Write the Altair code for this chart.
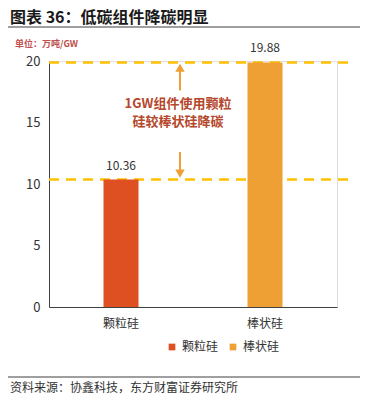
import altair as alt
import pandas as pd

categories = ["颗粒硅", "棒状硅"]
values = [10.36, 19.88]
colors = ["#DE5021", "#EFA035"]
y_ticks = [0, 5, 10, 15, 20]

title_text = "图表 36：低碳组件降碳明显"
unit_text = "单位：万吨/GW"
note_lines = ["1GW组件使用颗粒", "硅较棒状硅降碳"]
source_text = "资料来源：协鑫科技，东方财富证券研究所"

FONT = "Noto Sans CJK SC"

df = pd.DataFrame({"cat": categories, "val": values})

x_enc = alt.X("cat:N", sort=categories,
              scale=alt.Scale(domain=categories, paddingInner=0, paddingOuter=0),
              axis=alt.Axis(title=None, labelAngle=0, ticks=False, labelFontSize=12,
                            labelColor="#333333", labelPadding=11, domainColor="#404040",
                            labelFont=FONT))
y_scale = alt.Scale(domain=[0, 20], nice=False)
y_enc = alt.Y("val:Q", scale=y_scale,
              axis=alt.Axis(title=None, values=y_ticks, ticks=False, grid=False,
                            labelFontSize=13, labelColor="#333333", labelPadding=9,
                            domainColor="#404040", labelFont=FONT))

bars = alt.Chart(df).mark_bar(size=35).encode(
    x=x_enc, y=y_enc,
    color=alt.Color("cat:N", sort=categories,
                    scale=alt.Scale(domain=categories, range=colors),
                    legend=alt.Legend(title=None, orient="none", legendX=117, legendY=280,
                                      direction="horizontal", symbolType="square",
                                      symbolSize=45, labelFontSize=12, labelColor="#333333",
                                      columnPadding=8, labelFont=FONT, symbolStrokeWidth=0)),
)

labels = alt.Chart(df).mark_text(dy=-14, fontSize=12, color="#333333", font=FONT).encode(
    x=alt.X("cat:N", sort=categories), y="val:Q", text=alt.Text("val:Q", format=".2f"))

dash_df = pd.DataFrame({"val": values})
dashes = alt.Chart(dash_df).mark_rule(color="#FFC000", strokeWidth=2.5, strokeDash=[10, 7]).encode(
    y=alt.Y("val:Q", scale=y_scale), x=alt.value(0), x2=alt.value(303))

# arrows
shaft_df = pd.DataFrame({"y1": [17.6, 12.6], "y2": [19.3, 11.0]})
shafts = alt.Chart(shaft_df).mark_rule(color="#EFA035", strokeWidth=2).encode(
    x=alt.value(131), y=alt.Y("y1:Q", scale=y_scale), y2="y2:Q")
head_df = pd.DataFrame({"y": [19.45, 10.85], "shape": ["triangle-up", "triangle-down"]})
heads = alt.Chart(head_df).mark_point(filled=True, color="#EFA035", size=90, opacity=1).encode(
    x=alt.value(131), y=alt.Y("y:Q", scale=y_scale),
    shape=alt.Shape("shape:N", scale=None))

note_df = pd.DataFrame({"t": note_lines, "yy": [43, 61]})
note = alt.Chart(note_df).mark_text(fontSize=13, fontWeight="bold", color="#B5472B", font=FONT).encode(
    x=alt.value(129), y=alt.Y("yy:Q", scale=None), text="t:N")

title = alt.Chart(pd.DataFrame({"t": [title_text]})).mark_text(
    align="left", baseline="alphabetic", fontSize=16, fontWeight="bold", color="#1a1a1a", font=FONT
).encode(x=alt.value(-39), y=alt.value(-38), text="t:N")

unit = alt.Chart(pd.DataFrame({"t": [unit_text]})).mark_text(
    align="left", baseline="middle", fontSize=9, fontWeight="bold", color="#C0504D", font=FONT
).encode(x=alt.value(-34), y=alt.value(-17), text="t:N")

source = alt.Chart(pd.DataFrame({"t": [source_text]})).mark_text(
    align="left", baseline="middle", fontSize=12, color="#333333", font=FONT
).encode(x=alt.value(-39), y=alt.value(327), text="t:N")

lines_df = pd.DataFrame({"yy": [-34, 316]})
hlines = alt.Chart(lines_df).mark_rule(color="#7f7f7f", strokeWidth=1.5).encode(
    y=alt.Y("yy:Q", scale=None), x=alt.value(-41), x2=alt.value(311))

chart = alt.layer(dashes, bars, labels, shafts, heads, note, title, unit, source, hlines).properties(
    width=288, height=246,
    autosize=alt.AutoSizeParams(type="none"),
    padding={"left": 41, "top": 53, "right": 23, "bottom": 89},
).configure_view(stroke=None).configure(background="white")

chart.save("out.html", embed_options={"renderer": "svg", "actions": False})
